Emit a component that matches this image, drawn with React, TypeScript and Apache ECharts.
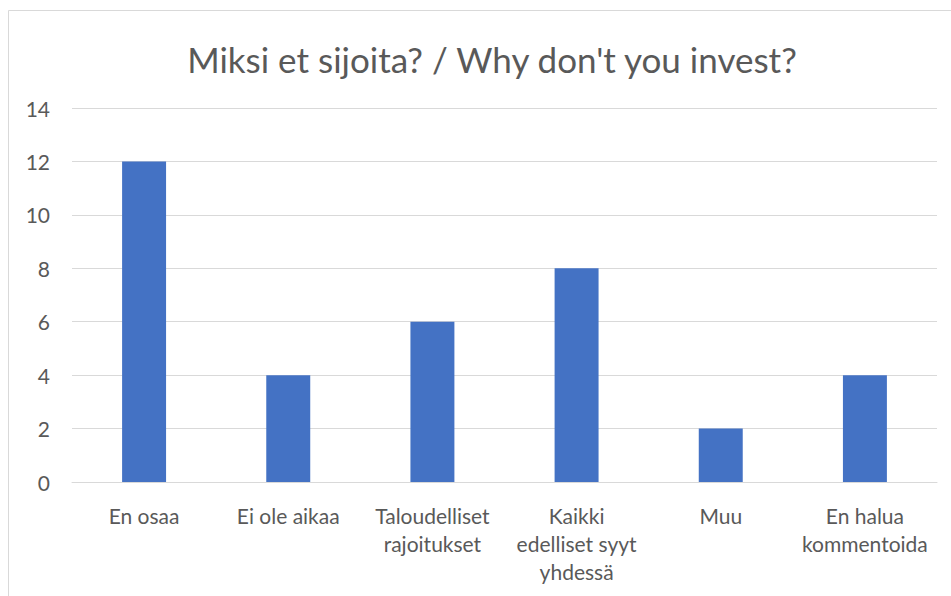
import React, { useEffect, useRef } from "react";
import * as echarts from "echarts";

const categories = [
  "En osaa",
  "Ei ole aikaa",
  "Taloudelliset\nrajoitukset",
  "Kaikki\nedelliset syyt\nyhdessä",
  "Muu",
  "En halua\nkommentoida",
];
const values = [12, 4, 6, 8, 2, 4];
const titleText = "Miksi et sijoita? / Why don't you invest?";

const FONT = "Lato, 'Open Sans', sans-serif";
const TEXT = "#595959";

export default function App() {
  const ref = useRef<HTMLDivElement>(null);
  useEffect(() => {
    if (!ref.current) return;
    const chart = echarts.init(ref.current, undefined, { renderer: "svg" });
    chart.setOption({
      animation: false,
      backgroundColor: "#ffffff",
      title: {
        text: titleText,
        left: 487,
        textAlign: "center",
        top: 36,
        textStyle: { fontFamily: FONT, fontSize: 35, fontWeight: "normal", color: TEXT },
      },
      graphic: [
        {
          type: "rect",
          shape: { x: 8.5, y: 10.5, width: 1000, height: 700 },
          style: { fill: "none", stroke: "#d9d9d9", lineWidth: 1 },
          silent: true,
        },
      ],
      grid: { left: 72, right: 14, top: 108, bottom: 114 },
      xAxis: {
        type: "category",
        data: categories,
        axisLine: { lineStyle: { color: "#d9d9d9", width: 1 } },
        axisTick: { show: false },
        axisLabel: {
          color: TEXT,
          fontFamily: FONT,
          fontSize: 21,
          lineHeight: 28,
          margin: 19,
          interval: 0,
        },
      },
      yAxis: {
        type: "value",
        min: 0,
        max: 14,
        interval: 2,
        axisLine: { show: false },
        axisTick: { show: false },
        splitLine: { lineStyle: { color: "#d9d9d9", width: 1 } },
        axisLabel: { color: TEXT, fontFamily: FONT, fontSize: 21, margin: 22 },
      },
      series: [
        {
          type: "bar",
          data: values,
          barWidth: "30.5%",
          itemStyle: { color: "#4472C4" },
        },
      ],
    });
    return () => chart.dispose();
  }, []);
  return (
    <div
      ref={ref}
      style={{ position: "absolute", left: 0, top: 0, width: 951, height: 596 }}
    />
  );
}
